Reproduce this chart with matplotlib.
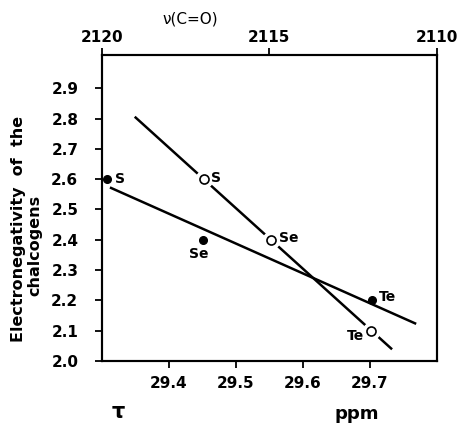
import numpy as np
import matplotlib
matplotlib.use("Agg")
import matplotlib.pyplot as plt

# tau (ppm) vs electronegativity of the chalcogens
tau_filled = [29.307, 29.451, 29.703]
chi_filled = [2.60, 2.40, 2.20]
labels_filled = ["S", "Se", "Te"]

tau_open = [29.452, 29.552, 29.702]
chi_open = [2.60, 2.40, 2.10]
labels_open = ["S", "Se", "Te"]

# x extent of the two fitted lines
fit_filled_x = [29.312, 29.769]
fit_open_x = [29.349, 29.733]

bottom_ticks = [29.4, 29.5, 29.6, 29.7]
top_ticks = [2120, 2115, 2110]
y_ticks = [2.0, 2.1, 2.2, 2.3, 2.4, 2.5, 2.6, 2.7, 2.8, 2.9]

plt.rcParams['font.family'] = ['DejaVu Sans']
plt.rcParams['font.weight'] = 'bold'

fig = plt.figure(figsize=(4.59, 4.26), dpi=100)
ax = fig.add_axes([0.222, 0.153, 0.73, 0.718])

# fitted lines
p1 = np.polyfit(tau_filled, chi_filled, 1)
p2 = np.polyfit(tau_open, chi_open, 1)
xs1 = np.array(fit_filled_x)
xs2 = np.array(fit_open_x)
ax.plot(xs1, np.polyval(p1, xs1), color='black', lw=1.8, solid_capstyle='butt')
ax.plot(xs2, np.polyval(p2, xs2), color='black', lw=1.8, solid_capstyle='butt')

# points
ax.plot(tau_filled, chi_filled, 'o', color='black', ms=5.5, zorder=3)
ax.plot(tau_open, chi_open, 'o', color='white', ms=12, zorder=3)
ax.plot(tau_open, chi_open, 'o', mfc='white', mec='black', mew=1.2, ms=6.5, zorder=4)

fs_lab = 10
# labels for filled points
ax.annotate(labels_filled[0], (tau_filled[0], chi_filled[0]), xytext=(6, 0),
            textcoords='offset points', va='center', ha='left', fontsize=fs_lab, fontweight='bold')
ax.annotate(labels_filled[1], (tau_filled[1], chi_filled[1]), xytext=(-3, -10),
            textcoords='offset points', va='center', ha='center', fontsize=fs_lab, fontweight='bold')
ax.annotate(labels_filled[2], (tau_filled[2], chi_filled[2]), xytext=(5, 2),
            textcoords='offset points', va='center', ha='left', fontsize=fs_lab, fontweight='bold')
# labels for open points
ax.annotate(labels_open[0], (tau_open[0], chi_open[0]), xytext=(5, 1),
            textcoords='offset points', va='center', ha='left', fontsize=fs_lab, fontweight='bold')
ax.annotate(labels_open[1], (tau_open[1], chi_open[1]), xytext=(6, 1),
            textcoords='offset points', va='center', ha='left', fontsize=fs_lab, fontweight='bold')
ax.annotate(labels_open[2], (tau_open[2], chi_open[2]), xytext=(-5, -4),
            textcoords='offset points', va='center', ha='right', fontsize=fs_lab, fontweight='bold')

ax.set_xlim(29.30, 29.80)
ax.set_ylim(2.0, 3.01)
ax.set_xticks(bottom_ticks)
ax.set_xticklabels([f"{t:.1f}" for t in bottom_ticks], fontsize=11, fontweight='bold')
ax.set_yticks(y_ticks)
ax.set_yticklabels([f"{t:.1f}" for t in y_ticks], fontsize=11, fontweight='bold')
ax.tick_params(axis='y', direction='out', length=5, width=1.3, pad=12)
ax.tick_params(axis='x', direction='out', length=5, width=1.3, pad=6)
for s in ax.spines.values():
    s.set_linewidth(1.5)

# y label, two lines placed separately
fig.text(19 / 459, 1 - 229 / 426, "Electronegativity  of  the", rotation=90,
         fontsize=11.5, fontweight='bold', ha='center', va='center')
fig.text(35 / 459, 1 - 245 / 426, "chalcogens", rotation=90,
         fontsize=11.5, fontweight='bold', ha='center', va='center')

# top axis: nu(C=O)
ax2 = ax.twiny()
ax2.set_xlim(2120, 2110)
ax2.set_xticks(top_ticks)
ax2.set_xticklabels([str(t) for t in top_ticks], fontsize=11, fontweight='bold')
ax2.tick_params(axis='x', direction='out', length=5, width=1.3, pad=2)
for s in ax2.spines.values():
    s.set_linewidth(1.5)
fig.text(190 / 459, 1 - 19 / 426, "ν(C=O)", fontsize=11, fontweight='normal',
         ha='center', va='center')

fig.text(118 / 459, 1 - 412 / 426, "τ", fontsize=15, ha='center', va='center')
fig.text(357 / 459, 1 - 414 / 426, "ppm", fontsize=13, fontweight='bold', ha='center', va='center')

fig.savefig("out.png", dpi=100)
